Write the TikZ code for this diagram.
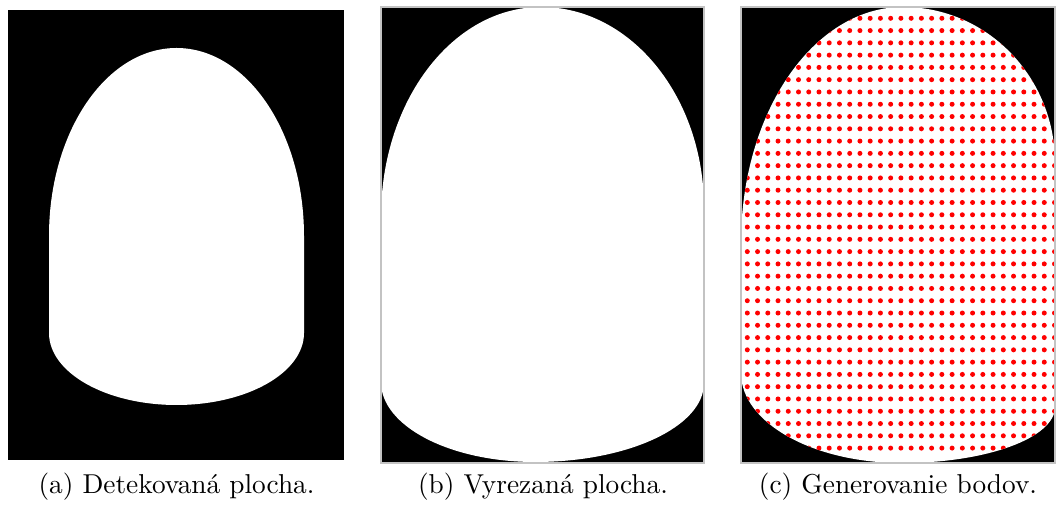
\documentclass[tikz,border=0pt]{standalone}
\usepackage{xcolor}
\usepackage{tikz}
\usetikzlibrary{positioning}
\definecolor{dotred}{RGB}{255,0,0}
\definecolor{framegray}{RGB}{195,195,195}
% outline of the cut area in (c), reused for the fill and the clip
\newcommand{\outlinec}{(741,243) arc[start angle=180,end angle=270,x radius=162,y radius=236]
  arc[start angle=270,end angle=360,x radius=152,y radius=156] -- (1055,407)
  arc[start angle=0,end angle=90,x radius=153,y radius=56]
  arc[start angle=90,end angle=180,x radius=161,y radius=90] -- cycle}

\begin{document}
\begin{tikzpicture}[x=0.366pt, y=-0.366pt, every node/.style={font=\normalsize,align=center},
  captxt/.style={anchor=base}, panelbg/.style={fill=black}, frameline/.style={draw=framegray,line width=0.4pt}]
  \useasboundingbox (0,0) rectangle (1056,506);
  % (a)
  \fill[panelbg] (8,10) rectangle (344,460);
  \fill[white] (49,236) arc[start angle=180,end angle=360,x radius=127.5,y radius=188] -- (304,333)
    arc[start angle=0,end angle=180,x radius=127.5,y radius=72] -- cycle;
  % (b)
  \fill[panelbg] (381,7) rectangle (704,463);
  \begin{scope}
    \clip (381,7) rectangle (704,463);
    \fill[white] (381,217) arc[start angle=180,end angle=270,x radius=160,y radius=210]
      arc[start angle=270,end angle=360,x radius=163,y radius=201] -- (704,383)
      arc[start angle=0,end angle=90,x radius=169,y radius=79]
      arc[start angle=90,end angle=180,x radius=154,y radius=80] -- cycle;
  \end{scope}
  \draw[frameline] (381,7) rectangle (704,463);
  % (c)
  \fill[panelbg] (741,7) rectangle (1055,463);
  \fill[white] \outlinec;
  \begin{scope}
    \clip \outlinec;
    \foreach \i in {0,...,30}
      \foreach \j in {0,...,35}
        \fill[dotred] (747.3+10.24*\i,18.3+12.28*\j) circle[radius=2.5];
  \end{scope}
  \draw[frameline] (741,7) rectangle (1055,463);
  % captions
  \node[captxt] (capa) at (176.5,494) {(a) Detekovaná plocha.};
  \node[captxt] (capb) at (543,494) {(b) Vyrezaná plocha.};
  \node[captxt] (capc) at (898,494) {(c) Generovanie bodov.};
\end{tikzpicture}
\end{document}
